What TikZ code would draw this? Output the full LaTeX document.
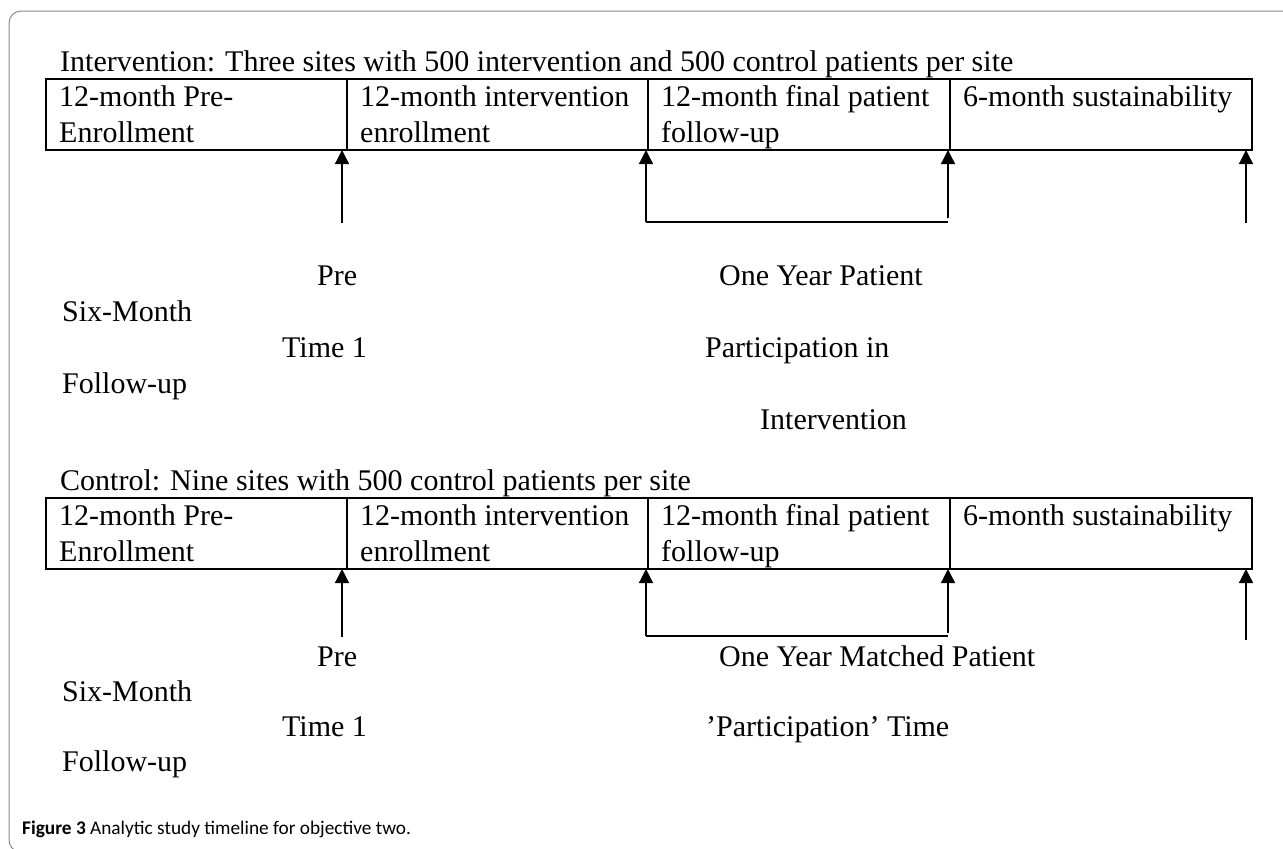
\documentclass[tikz,border=0pt]{standalone}
\usepackage{fontspec}
\setmainfont{Liberation Serif}
\newfontfamily\capfont{Carlito}
\usetikzlibrary{arrows.meta,
                positioning}

\tikzset{
    cell/.style={draw, line width=2pt, minimum height=71pt, inner sep=0pt, outer sep=0pt, anchor=north west},
    celltext/.style={anchor=north west, align=left, inner xsep=13pt, inner ysep=6pt},
    lbl/.style={anchor=base west, inner sep=0pt},
    tip/.style={line width=1.3pt, -{Triangle[length=14pt,width=14pt]}},
    bar/.style={line width=1.3pt},
}

\begin{document}
\begin{tikzpicture}[x=1pt, y=-1pt, font=\fontsize{30}{36}\selectfont]
    \useasboundingbox (0,0) rectangle (1283,849);
    % outer frame
    \draw[line width=1pt, color=black!45, rounded corners=12pt] (1290,11) -- (9,11) -- (9,852) -- (40,852);

    % intervention timeline
    \node[lbl] (ttl1) at (60,71) {Intervention: Three sites with 500 intervention and 500 control patients per site};
    \node[cell, minimum width=301pt] (a1) at (46,79) {};
    \node[cell, minimum width=301pt, right=0pt of a1.north east, anchor=north west] (a2) {};
    \node[cell, minimum width=302pt, right=0pt of a2.north east, anchor=north west] (a3) {};
    \node[cell, minimum width=302pt, right=0pt of a3.north east, anchor=north west] (a4) {};
    \node[celltext] at (a1.north west) {12-month Pre-\\Enrollment};
    \node[celltext] at (a2.north west) {12-month intervention\\enrollment};
    \node[celltext] at (a3.north west) {12-month final patient\\follow-up};
    \node[celltext] at (a4.north west) {6-month sustainability};

    \coordinate (p1) at (342,223);
    \coordinate (q1) at (646,222);
    \coordinate (r1) at (948,222);
    \coordinate (s1) at (1246,223);
    \draw[tip] (p1) -- (p1 |- a1.south);
    \draw[tip] (q1) -- (q1 |- a3.south);
    \draw[bar] (q1) -- (r1);
    \draw[tip] ([yshift=4pt]r1) -- (r1 |- a4.south);
    \draw[tip] (s1) -- (s1 |- a4.south);

    \node[lbl] (pre1) at (317,285) {Pre};
    \node[lbl] (oyp1) at (719,285) {One Year Patient};
    \node[lbl] (six1) at (62,321) {Six-Month};
    \node[lbl] (tim1) at (282,357) {Time 1};
    \node[lbl] (par1) at (705,357) {Participation in};
    \node[lbl] (fol1) at (62,393) {Follow-up};
    \node[lbl] (int1) at (760,429) {Intervention};

    % control timeline
    \node[lbl] (ttl2) at (60,490) {Control: Nine sites with 500 control patients per site};
    \node[cell, minimum width=301pt] (b1) at (46,498) {};
    \node[cell, minimum width=301pt, right=0pt of b1.north east, anchor=north west] (b2) {};
    \node[cell, minimum width=302pt, right=0pt of b2.north east, anchor=north west] (b3) {};
    \node[cell, minimum width=302pt, right=0pt of b3.north east, anchor=north west] (b4) {};
    \node[celltext] at (b1.north west) {12-month Pre-\\Enrollment};
    \node[celltext] at (b2.north west) {12-month intervention\\enrollment};
    \node[celltext] at (b3.north west) {12-month final patient\\follow-up};
    \node[celltext] at (b4.north west) {6-month sustainability};

    \coordinate (p2) at (342,637);
    \coordinate (q2) at (646,636);
    \coordinate (r2) at (948,636);
    \coordinate (s2) at (1246,640);
    \draw[tip] (p2) -- (p2 |- b1.south);
    \draw[tip] (q2) -- (q2 |- b3.south);
    \draw[bar] (q2) -- (r2);
    \draw[tip] ([yshift=3pt]r2) -- (r2 |- b4.south);
    \draw[tip] (s2) -- (s2 |- b4.south);

    \node[lbl] (pre2) at (317,666) {Pre};
    \node[lbl] (oyp2) at (719,666) {One Year Matched Patient};
    \node[lbl] (six2) at (62,701) {Six-Month};
    \node[lbl] (tim2) at (282,736) {Time 1};
    \node[lbl] (par2) at (706,736) {’Participation’ Time};
    \node[lbl] (fol2) at (62,771) {Follow-up};

    % caption
    \node[lbl, font=\capfont\fontsize{19.3}{23}\selectfont] (cap) at (22,834) {\textbf{Figure 3} Analytic study timeline for objective two.};
\end{tikzpicture}
\end{document}
